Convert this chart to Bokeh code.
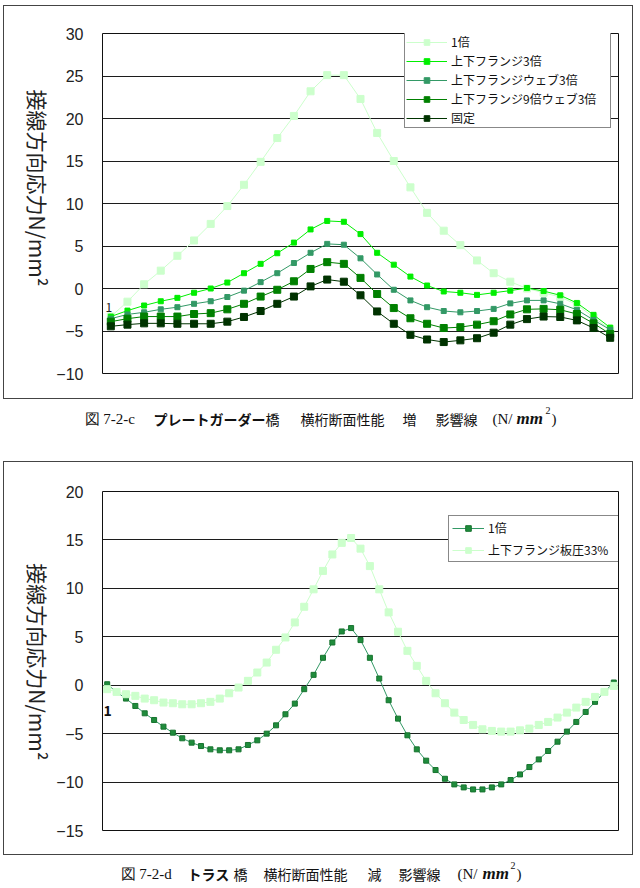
import math
from bokeh.plotting import figure
from bokeh.models import Range1d, Legend, LegendItem, Label, FixedTicker, LinearAxis
from bokeh.layouts import column, row
from bokeh.embed import file_html
from bokeh.resources import INLINE

# ---------------- data: plate girder (7-2-c) ----------------
girder_points = list(range(1, 32))
girder_1x = [-3.3, -1.55, 0.5, 2.1, 3.85, 5.65, 7.6, 9.7, 12.2, 14.9, 17.7, 20.3,
             23.2, 25.1, 25.1, 22.3, 18.3, 15.0, 11.9, 8.9, 6.8, 5.1, 3.3, 1.8,
             0.8, 0.0, -0.5, -1.0, -1.9, -3.4, -4.8]
girder_flange3 = [-3.3, -2.6, -2.0, -1.5, -1.1, -0.5, 0.0, 0.7, 1.8, 2.9, 4.15, 5.4,
                  6.95, 7.95, 7.85, 6.4, 4.2, 2.8, 1.4, 0.35, -0.35, -0.5, -0.75,
                  -0.5, -0.25, 0.05, -0.3, -0.8, -1.7, -3.1, -4.6]
girder_flange_web3 = [-3.55, -3.05, -2.8, -2.45, -2.2, -1.8, -1.5, -1.0, -0.25, 0.75,
                      1.8, 3.0, 4.2, 5.25, 5.15, 3.55, 1.65, -0.15, -1.4, -2.2, -2.65,
                      -2.8, -2.65, -2.4, -1.75, -1.4, -1.4, -1.8, -2.5, -3.7, -4.85]
girder_flange9_web3 = [-3.9, -3.55, -3.3, -3.3, -3.3, -3.0, -2.9, -2.45, -1.8, -0.95,
                       -0.15, 0.85, 2.3, 3.1, 2.9, 1.25, -0.65, -2.3, -3.5, -4.15,
                       -4.65, -4.55, -4.25, -3.85, -3.05, -2.45, -2.4, -2.5, -3.0,
                       -4.1, -5.35]
girder_fixed = [-4.45, -4.25, -4.1, -4.1, -4.15, -4.15, -4.15, -3.9, -3.35, -2.65,
                -1.8, -0.95, 0.25, 1.05, 0.8, -0.8, -2.7, -4.15, -5.45, -6.0, -6.3,
                -6.1, -5.85, -5.2, -4.25, -3.6, -3.3, -3.35, -3.75, -4.65, -5.8]
girder_names = ["1倍", "上下フランジ3倍", "上下フランジウェブ3倍",
                "上下フランジ9倍ウェブ3倍", "固定"]
girder_ticks = [-10, -5, 0, 5, 10, 15, 20, 25, 30]
girder_tick_labels = ["\u221210", "\u22125", "0", "5", "10", "15", "20", "25", "30"]

# ---------------- data: truss (7-2-d) ----------------
truss_points = list(range(1, 56))
truss_1x = [0.1, -0.7, -1.38, -2.14, -2.9, -3.59, -4.28, -4.9, -5.48, -5.93, -6.28,
            -6.62, -6.72, -6.72, -6.62, -6.17, -5.69, -5.0, -4.14, -3.0, -1.9, -0.41,
            1.07, 2.83, 4.41, 5.55, 5.9, 4.66, 2.83, 0.69, -1.55, -3.45, -5.17, -6.62,
            -7.79, -8.76, -9.66, -10.24, -10.55, -10.76, -10.76, -10.55, -10.24,
            -9.79, -9.21, -8.45, -7.66, -6.79, -5.83, -4.79, -3.79, -2.76, -1.72,
            -0.69, 0.28]
truss_flange33 = [-0.41, -0.69, -0.93, -1.1, -1.38, -1.55, -1.79, -1.86, -1.97, -1.97,
                  -1.86, -1.72, -1.38, -0.83, -0.24, 0.45, 1.31, 2.34, 3.66, 4.93,
                  6.48, 8.1, 9.9, 11.8, 13.5, 14.7, 15.2, 14.1, 12.3, 9.9, 7.52, 5.52,
                  3.55, 2.0, 0.45, -0.83, -1.86, -2.83, -3.59, -4.1, -4.55, -4.72,
                  -4.79, -4.79, -4.66, -4.48, -4.1, -3.79, -3.34, -2.83, -2.31, -1.72,
                  -1.21, -0.69, -0.07]
truss_names = ["1倍", "上下フランジ板圧33%"]
truss_ticks = [-15, -10, -5, 0, 5, 10, 15, 20]
truss_tick_labels = ["\u221215", "\u221210", "\u22125", "0", "5", "10", "15", "20"]

Y_TITLE = "接線方向応力N/mm\u00b2"
JP = "Noto Sans CJK JP"
SERIF = "Liberation Serif"


def chart(n, y0, y1, ticks, tick_labels, border_top, border_bottom, title_end):
    p = figure(width=630, height=394, output_backend="svg", toolbar_location=None,
               x_range=Range1d(0.5, n + 0.5), y_range=Range1d(y0, y1),
               min_border_left=98, min_border_right=16,
               min_border_top=border_top, min_border_bottom=border_bottom)
    p.xaxis.visible = False
    p.xgrid.visible = False
    p.ygrid.ticker = FixedTicker(ticks=ticks)
    p.ygrid.grid_line_color = "#1c1c1c"
    p.ygrid.grid_line_width = 1
    ax = p.yaxis[0]
    ax.ticker = FixedTicker(ticks=ticks)
    ax.major_label_overrides = {t: s for t, s in zip(ticks, tick_labels)}
    ax.axis_line_color = None
    ax.major_tick_line_color = None
    ax.minor_tick_line_color = None
    ax.major_label_standoff = 13
    ax.major_label_text_font = "Liberation Sans"
    ax.major_label_text_font_size = "16px"
    ax.major_label_text_color = "#222222"
    # outer left axis carrying the vertical title (reads top to bottom,
    # its end sits on the single tick)
    title_axis = LinearAxis(ticker=FixedTicker(ticks=[title_end]),
                            major_label_overrides={title_end: Y_TITLE},
                            major_label_orientation=-math.pi / 2,
                            major_label_text_font=JP,
                            major_label_text_font_size="21px",
                            major_label_text_color="#222222",
                            major_label_standoff=10,
                            axis_line_color=None, major_tick_line_color=None,
                            minor_tick_line_color=None)
    p.add_layout(title_axis, "left")
    p.outline_line_color = "#111111"
    p.outline_line_width = 1
    p.background_fill_color = "white"
    p.styles = {"border": "1px solid #444444"}
    return p


def series(p, xs, ys, color, size, marker_fill=None, marker_line=None):
    ln = p.line(xs, ys, line_color=color, line_width=1)
    sc = p.scatter(xs, ys, marker="square", size=size,
                   fill_color=marker_fill or color, line_color=marker_line or color)
    return [ln, sc]


def legend(p, names, groups, loc, padding, spacing, glyph_w, label_w):
    lg = Legend(items=[LegendItem(label=nm, renderers=g) for nm, g in zip(names, groups)],
                location=loc, margin=0, padding=padding, spacing=spacing,
                glyph_width=glyph_w, glyph_height=14, label_height=14,
                label_width=label_w, label_standoff=4,
                label_text_font=JP, label_text_font_size="12px",
                label_text_color="#111111", border_line_color="#111111",
                border_line_width=1, background_fill_color="white",
                background_fill_alpha=1.0)
    p.add_layout(lg)


# ---------- plate girder chart ----------
top = chart(len(girder_points), -10, 30, girder_ticks, girder_tick_labels, 27, 27, 0.25)
top.margin = (5, 0, 0, 3)
g_styles = [("#ccffcc", 7), ("#00ee00", 5), ("#339966", 5), ("#008000", 7), ("#003300", 7)]
g_groups = []
for ys, (col, sz) in zip([girder_1x, girder_flange3, girder_flange_web3,
                          girder_flange9_web3, girder_fixed], g_styles):
    g_groups.append(series(top, girder_points, ys, col, sz))
legend(top, girder_names, g_groups, (302, 245), 1, 2, 41, 158)
top.add_layout(Label(x=0.5, y=-2.82, x_offset=3, text="1", text_font=JP,
                     text_font_size="12px", text_color="#222222",
                     text_baseline="bottom", text_align="left"))

# ---------- truss chart ----------
bot = chart(len(truss_points), -15, 20, truss_ticks, truss_tick_labels, 29, 26, -7.75)
bot.margin = (0, 0, 0, 3)
t_groups = [
    series(bot, truss_points, truss_1x, "#339966", 5, "#1f8c3c", "#17732f"),
    series(bot, truss_points, truss_flange33, "#ccffcc", 7),
]
legend(bot, truss_names, t_groups, (346, 268), 3, 5, 32, 127)
bot.add_layout(Label(x=0.5, y=-3.13, x_offset=1, text="1", text_font=JP,
                     text_font_size="14px", text_font_style="bold",
                     text_color="#111111", text_baseline="bottom", text_align="left"))


# ---------- captions ----------
cap_fonts = [SERIF, JP, JP, JP, JP, JP, SERIF, SERIF, SERIF, SERIF]
cap_sizes = ["15px", "14px", "14px", "14px", "14px", "14px", "15px", "17px", "10px", "15px"]
cap_styles = ["normal", "bold", "normal", "normal", "normal", "normal", "normal",
              "bold italic", "normal", "normal"]
cap_rises = [0, 0, 0, 0, 0, 0, 0, 0, 8, 0]


def caption(texts, page_x, height, from_top):
    c = figure(width=640, height=height, output_backend="svg", toolbar_location=None,
               x_range=Range1d(0, 1), y_range=Range1d(0, 1),
               x_axis_type=None, y_axis_type=None, min_border=0,
               min_border_left=0, min_border_right=0,
               min_border_top=0, min_border_bottom=0)
    c.outline_line_color = None
    for t, px, f, s, st, r in zip(texts, page_x, cap_fonts, cap_sizes, cap_styles,
                                  cap_rises):
        c.add_layout(Label(x=px, y=height - from_top + r,
                           x_units="screen", y_units="screen", text=t,
                           text_font=f, text_font_size=s, text_font_style=st,
                           text_color="#111111", text_align="left",
                           text_baseline="middle"))
    return row(c)


cap1 = caption(["図 7-2-c", "プレートガーダー", "橋", "横桁断面性能", "増", "影響線",
                "(N/", "mm", "2", ")"],
               [84, 153, 265, 300, 402, 435, 492, 516, 545, 551], 62, 19)
cap2 = caption(["図 7-2-d", "トラス", "橋", "横桁断面性能", "減", "影響線",
                "(N/", "mm", "2", ")"],
               [120, 187, 233, 263, 367, 398, 457, 482, 510, 516], 29, 18)

page = column(top, cap1, bot, cap2, spacing=0)
open("out.html", "w").write(file_html(page, INLINE))
